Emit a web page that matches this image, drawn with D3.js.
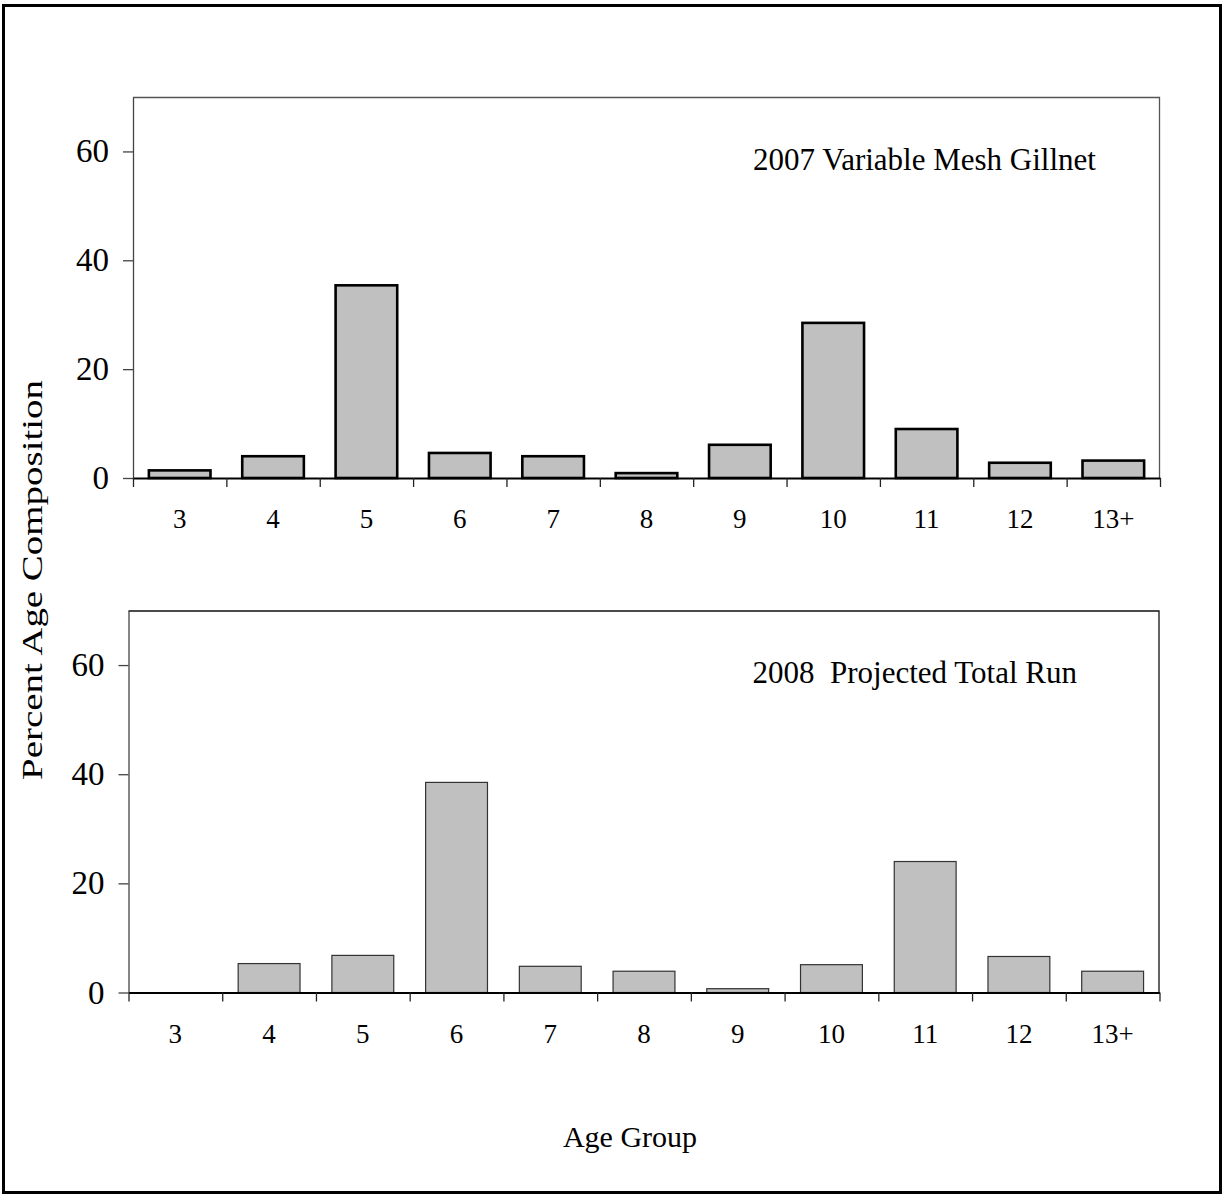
<!DOCTYPE html>
<html>
<head>
<meta charset="utf-8">
<script src="https://cdn.jsdelivr.net/npm/d3@7"></script>
<style>
    html, body { margin: 0; padding: 0; background: #fff; }
    svg { display: block; font-family: "Liberation Serif", "Times New Roman", serif; }
</style>
</head>
<body>
<div id="chart"></div>
<script>
// Age groups shared by both panels
const ageGroups = ['3', '4', '5', '6', '7', '8', '9', '10', '11', '12', '13+'];

// Percent age composition
const gillnet2007 = [1.4, 4.0, 35.4, 4.6, 4.0, 0.9, 6.1, 28.5, 9.0, 2.8, 3.2];
const projected2008 = [0, 5.3, 6.8, 38.5, 4.8, 3.9, 0.7, 5.1, 24.0, 6.6, 3.9];

const yTicks = [0, 20, 40, 60];
const yMax = 70;

const panelTitles = ['2007 Variable Mesh Gillnet', '2008  Projected Total Run'];

const width = 1225;
const height = 1196;

const svg = d3.select('#chart')
    .append('svg')
    .attr('width', width)
    .attr('height', height);

// outer frame
svg.append('rect')
    .attr('x', 3.5)
    .attr('y', 5.5)
    .attr('width', 1217)
    .attr('height', 1187)
    .attr('fill', 'none')
    .attr('stroke', '#000')
    .attr('stroke-width', 3);

// Draw one panel of bars
function drawPanel(cfg) {
    const g = svg.append('g')
        .attr('transform', `translate(${cfg.left}, ${cfg.top})`);
    const w = cfg.width;
    const h = cfg.height;

    const x = d3.scaleBand()
        .domain(ageGroups)
        .range([0, w])
        .paddingInner(0.34)
        .paddingOuter(0.17);

    // linear scale for the between-category tick marks
    const xTick = d3.scaleLinear()
        .domain([0, ageGroups.length])
        .range([0, w]);

    const y = d3.scaleLinear()
        .domain([0, yMax])
        .range([h, 0]);

    // plot area border (top + right)
    g.append('path')
        .attr('d', `M0,0.5H${w - 0.5}V${h}`)
        .attr('fill', 'none')
        .attr('stroke', cfg.borderColor)
        .attr('stroke-width', 1.3);

    // bars
    g.selectAll('.bar')
        .data(cfg.values.map((v, i) => ({ age: ageGroups[i], value: v })).filter(d => d.value > 0))
        .enter()
        .append('rect')
        .attr('class', 'bar')
        .attr('x', d => x(d.age))
        .attr('width', x.bandwidth())
        .attr('y', d => y(d.value))
        .attr('height', d => y(0) - y(d.value))
        .attr('fill', '#c0c0c0')
        .attr('stroke', cfg.barStroke)
        .attr('stroke-width', cfg.barStrokeWidth);

    // y axis
    const yAxis = g.append('g')
        .call(d3.axisLeft(y)
            .tickValues(yTicks)
            .tickSize(10)
            .tickSizeOuter(0)
            .tickPadding(14));
    yAxis.select('.domain').attr('stroke', '#444').attr('stroke-width', 1.3);
    yAxis.selectAll('.tick line').attr('stroke', '#444').attr('stroke-width', 1.3);
    yAxis.selectAll('.tick text')
        .attr('font-family', '"Liberation Serif", "Times New Roman", serif')
        .attr('font-size', 33)
        .attr('fill', '#000');

    // x axis tick marks between categories
    const xAxis = g.append('g')
        .attr('transform', `translate(0, ${h})`)
        .call(d3.axisBottom(xTick)
            .tickValues(d3.range(ageGroups.length + 1))
            .tickFormat('')
            .tickSize(9)
            .tickSizeOuter(0));
    xAxis.select('.domain').attr('stroke', '#000').attr('stroke-width', 1.8);
    xAxis.selectAll('.tick line').attr('stroke', '#222').attr('stroke-width', 1.3);

    // x category labels at the band centres
    const xLabels = g.append('g')
        .attr('transform', `translate(0, ${h})`)
        .call(d3.axisBottom(x).tickSize(0).tickPadding(31));
    xLabels.select('.domain').remove();
    xLabels.selectAll('.tick text')
        .attr('font-family', '"Liberation Serif", "Times New Roman", serif')
        .attr('font-size', 27)
        .attr('fill', '#000');

    // panel title
    g.append('text')
        .attr('x', cfg.titleX)
        .attr('y', cfg.titleY)
        .attr('font-size', 31)
        .style('white-space', 'pre')
        .attr('fill', '#000')
        .text(cfg.title);
}

drawPanel({
    left: 133, top: 97, width: 1027, height: 381,
    values: gillnet2007,
    title: panelTitles[0],
    titleX: 620, titleY: 73,
    barStroke: '#000', barStrokeWidth: 2.6,
    borderColor: '#555'
});

drawPanel({
    left: 128.5, top: 610.5, width: 1031, height: 382,
    values: projected2008,
    title: panelTitles[1],
    titleX: 624, titleY: 72,
    barStroke: '#333', barStrokeWidth: 1.2,
    borderColor: '#111'
});

// y axis title
svg.append('text')
    .attr('transform', 'translate(42, 580) rotate(-90)')
    .attr('text-anchor', 'middle')
    .attr('font-size', 29)
    .attr('textLength', 400)
    .attr('lengthAdjust', 'spacingAndGlyphs')
    .attr('fill', '#000')
    .text('Percent Age Composition');

// x axis title
svg.append('text')
    .attr('x', 630)
    .attr('y', 1147)
    .attr('text-anchor', 'middle')
    .attr('font-size', 30)
    .attr('fill', '#000')
    .text('Age Group');
</script>
</body>
</html>
